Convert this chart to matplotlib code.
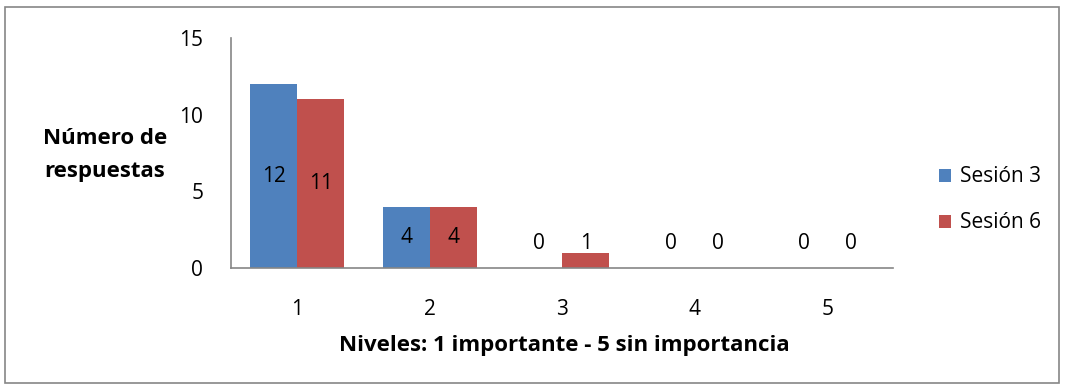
import matplotlib.pyplot as plt
import numpy as np
from matplotlib.patches import Rectangle

plt.rcParams['font.family'] = ['Open Sans', 'DejaVu Sans']

niveles = ['1', '2', '3', '4', '5']
sesion3 = [12, 4, 0, 0, 0]
sesion6 = [11, 4, 1, 0, 0]

blue = '#4F81BD'
red = '#C0504D'
grey = '#868686'

fig = plt.figure(figsize=(10.65, 3.85), dpi=100)
ax = fig.add_axes([231 / 1065, 1 - 268 / 385, (893.5 - 231) / 1065, (268 - 38) / 385])

x = np.arange(1, len(niveles) + 1)
w = 0.355
ax.bar(x - w / 2, sesion3, w, color=blue, label='Sesión 3')
ax.bar(x + w / 2, sesion6, w, color=red, label='Sesión 6')

# value labels near the middle of each bar, lifted for short bars
for xs, vals in ((x - w / 2, sesion3), (x + w / 2, sesion6)):
    for xi, v in zip(xs, vals):
        ax.text(xi, max(v / 2, 1.6), str(v), ha='center', va='center', fontsize=15)

ax.set_xlim(0.5, 5.5)
ax.set_ylim(0, 15)
ax.set_yticks([0, 5, 10, 15])
ax.set_xticks(x)
ax.set_xticklabels(niveles)
ax.tick_params(axis='both', length=0, labelsize=15)
ax.tick_params(axis='x', pad=22)
ax.tick_params(axis='y', pad=20)
for s in ('top', 'right'):
    ax.spines[s].set_visible(False)
for s in ('left', 'bottom'):
    ax.spines[s].set_color(grey)
    ax.spines[s].set_linewidth(1.2)

fig.text(105 / 1065, 1 - 155 / 385, 'Número de\nrespuestas', ha='center', va='center',
         fontsize=16, fontweight='bold', linespacing=1.7)
fig.text(564 / 1065, 1 - 346 / 385, 'Niveles: 1 importante - 5 sin importancia',
         ha='center', va='center', fontsize=16, fontweight='bold')

ax.legend(loc='center left', bbox_to_anchor=(920 / 1065, 1 - 200 / 385),
          bbox_transform=fig.transFigure, frameon=False, fontsize=15,
          handlelength=0.6, handleheight=0.6, handletextpad=0.4, labelspacing=1.2)

fig.patches.append(Rectangle((5 / 1065, 2 / 385), 1054 / 1065, 376 / 385,
                             transform=fig.transFigure, fill=False,
                             edgecolor=grey, linewidth=1.2))

fig.savefig('out.png', dpi=100)
